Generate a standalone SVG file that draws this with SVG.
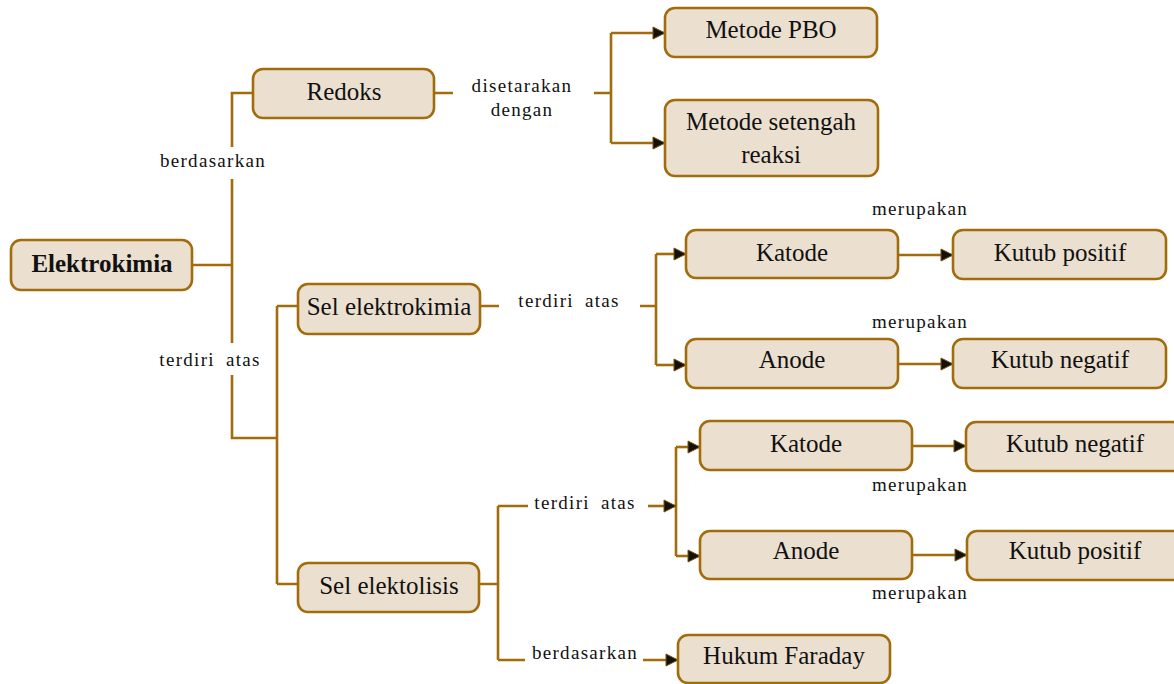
<svg xmlns="http://www.w3.org/2000/svg" width="1174" height="684" viewBox="0 0 1174 684">
<style>
.box{fill:#EBE0CF;stroke:#A26C0C;stroke-width:2.6}
.t{font-family:"Liberation Serif",serif;font-size:25px;fill:#111;text-anchor:middle}
.b{font-weight:bold}
.l{font-family:"Liberation Serif",serif;font-size:19px;fill:#111;text-anchor:middle;letter-spacing:1.3px}
.w{word-spacing:5px}
.c{fill:none;stroke:#A26C0C;stroke-width:2.6}
</style>
<defs>
<marker id="ar" markerUnits="userSpaceOnUse" markerWidth="14" markerHeight="14" viewBox="0 0 14 14" refX="13" refY="7" orient="auto">
<path d="M1,1 L13,7 L1,13 Z" fill="#111" stroke="#7a5208" stroke-width="1"/>
</marker>
</defs>
<rect width="1174" height="684" fill="#fff"/>
<g id="connectors">
<path class="c" d="M192 265 H232 M253 93 H232 V147 M232 179 V343 M232 375 V438 H277 M277 306 V584 M277 306 H298 M277 584 H298"/>
<path class="c" d="M434 93 H453 M594 93 H611 M611 33 V143"/>
<path class="c" d="M611 33 H665" marker-end="url(#ar)"/>
<path class="c" d="M611 143 H665" marker-end="url(#ar)"/>
<path class="c" d="M480 306 H499 M640 306 H656 M656 254 V365"/>
<path class="c" d="M656 254 H686" marker-end="url(#ar)"/>
<path class="c" d="M656 365 H686" marker-end="url(#ar)"/>
<path class="c" d="M898 255 H953" marker-end="url(#ar)"/>
<path class="c" d="M898 364 H953" marker-end="url(#ar)"/>
<path class="c" d="M479 584 H498 M498 506 V660 M498 506 H528 M498 660 H525 M676 447 V556"/>
<path class="c" d="M648 506 H676" marker-end="url(#ar)"/>
<path class="c" d="M676 447 H700" marker-end="url(#ar)"/>
<path class="c" d="M676 556 H700" marker-end="url(#ar)"/>
<path class="c" d="M643 660 H678" marker-end="url(#ar)"/>
<path class="c" d="M912 446 H966" marker-end="url(#ar)"/>
<path class="c" d="M912 555 H967" marker-end="url(#ar)"/>
</g>
<g id="labels">
<text class="l" x="213" y="167">berdasarkan</text>
<text class="l w" x="210" y="366">terdiri atas</text>
<text class="l" x="522" y="92">disetarakan</text>
<text class="l" x="522" y="116">dengan</text>
<text class="l w" x="569" y="307">terdiri atas</text>
<text class="l" x="920" y="215">merupakan</text>
<text class="l" x="920" y="328">merupakan</text>
<text class="l w" x="585" y="509">terdiri atas</text>
<text class="l" x="585" y="659">berdasarkan</text>
<text class="l" x="920" y="491">merupakan</text>
<text class="l" x="920" y="599">merupakan</text>
</g>
<g id="n-elektrokimia"><rect class="box" x="11" y="240" width="181" height="50" rx="10"/><text class="t b" x="102" y="272">Elektrokimia</text></g>
<g id="n-redoks"><rect class="box" x="253" y="69" width="181" height="49" rx="10"/><text class="t" x="344" y="100">Redoks</text></g>
<g id="n-pbo"><rect class="box" x="665" y="8" width="212" height="49" rx="10"/><text class="t" x="771" y="38">Metode PBO</text></g>
<g id="n-setengah"><rect class="box" x="665" y="100" width="213" height="76" rx="10"/><text class="t" x="771" y="130">Metode setengah</text><text class="t" x="771" y="163">reaksi</text></g>
<g id="n-selkimia"><rect class="box" x="298" y="284" width="182" height="50" rx="10"/><text class="t" x="389" y="315">Sel elektrokimia</text></g>
<g id="n-katode1"><rect class="box" x="686" y="230" width="212" height="48" rx="10"/><text class="t" x="792" y="261">Katode</text></g>
<g id="n-kutubpos1"><rect class="box" x="953" y="230" width="213" height="49" rx="10"/><text class="t" x="1060" y="261">Kutub positif</text></g>
<g id="n-anode1"><rect class="box" x="686" y="339" width="212" height="49" rx="10"/><text class="t" x="792" y="368">Anode</text></g>
<g id="n-kutubneg1"><rect class="box" x="953" y="339" width="213" height="49" rx="10"/><text class="t" x="1060" y="368">Kutub negatif</text></g>
<g id="n-elektolisis"><rect class="box" x="298" y="563" width="181" height="49" rx="10"/><text class="t" x="389" y="594">Sel elektolisis</text></g>
<g id="n-katode2"><rect class="box" x="700" y="421" width="212" height="49" rx="10"/><text class="t" x="806" y="452">Katode</text></g>
<g id="n-kutubneg2"><rect class="box" x="966" y="422" width="216" height="49" rx="10"/><text class="t" x="1075" y="452">Kutub negatif</text></g>
<g id="n-anode2"><rect class="box" x="700" y="531" width="212" height="48" rx="10"/><text class="t" x="806" y="559">Anode</text></g>
<g id="n-kutubpos2"><rect class="box" x="967" y="531" width="216" height="49" rx="10"/><text class="t" x="1075" y="559">Kutub positif</text></g>
<g id="n-faraday"><rect class="box" x="678" y="635" width="212" height="48" rx="10"/><text class="t" x="784" y="664">Hukum Faraday</text></g>
</svg>
